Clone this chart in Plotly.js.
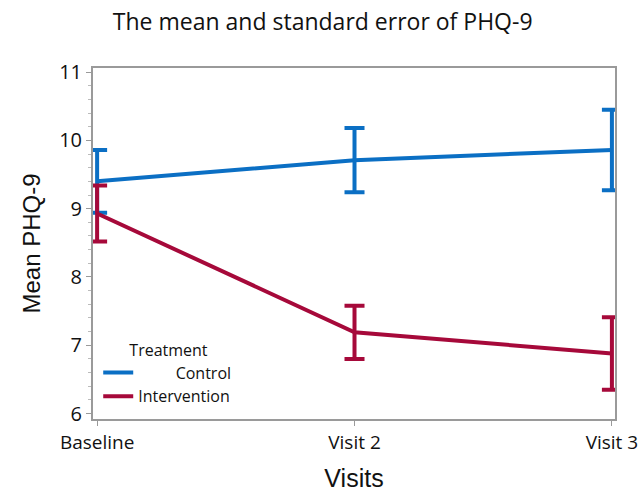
<!DOCTYPE html>
<html><head><meta charset="utf-8">
<script src="https://cdn.plot.ly/plotly-3.0.1.min.js"></script>
<style>body{margin:0;background:#fff}#c{width:639px;height:498px}</style>
</head><body><div id="c"></div>
<script>
const visits = ["Baseline", "Visit 2", "Visit 3"];
const controlMean = [9.40, 9.71, 9.86];
const controlSE = [0.46, 0.47, 0.59];
const interventionMean = [8.93, 7.19, 6.88];
const interventionSE = [0.41, 0.39, 0.53];
const seriesNames = ["&nbsp;&nbsp;&nbsp;&nbsp;&nbsp;&nbsp;&nbsp;&nbsp;&nbsp;Control", "Intervention"];
const colors = ["#0b6fc4", "#a6093a"];

const xs = visits.map((v, i) => i);
function tr(name, y, se, col) {
  return {
    x: xs, y: y, name: name, type: "scatter", mode: "lines",
    line: {color: col, width: 4},
    error_y: {type: "data", array: se, visible: true, color: col, thickness: 4, width: 10},
    cliponaxis: false
  };
}
const data = [
  tr(seriesNames[0], controlMean, controlSE, colors[0]),
  tr(seriesNames[1], interventionMean, interventionSE, colors[1])
];
const font = "Open Sans, Liberation Sans, sans-serif";
const layout = {
  width: 639, height: 498,
  margin: {l: 93, r: 24, t: 68, b: 79},
  paper_bgcolor: "#fff", plot_bgcolor: "#fff",
  title: {text: "The mean and standard error of PHQ-9", x: 0.505, xanchor: "center", y: 0.955, yanchor: "middle",
          font: {family: font, size: 23, color: "#111"}},
  xaxis: {
    range: [-0.016, 2.012], tickvals: xs, ticktext: visits,
    showgrid: false, zeroline: false, showline: true, linecolor: "#9a9a9a", linewidth: 2, mirror: true,
    ticks: "outside", ticklen: 5, tickcolor: "#9a9a9a",
    tickfont: {family: font, size: 19, color: "#111"},
    title: {text: "Visits", font: {family: "Liberation Sans, Arial, sans-serif", size: 25, color: "#111"}, standoff: 16}
  },
  yaxis: {
    range: [5.92, 11.06], tickvals: [6, 7, 8, 9, 10, 11],
    showgrid: false, zeroline: false, showline: true, linecolor: "#9a9a9a", linewidth: 2, mirror: true,
    ticks: "outside", ticklen: 5, tickcolor: "#9a9a9a",
    minor: {dtick: 0.2, ticks: "outside", ticklen: 3, tickcolor: "#bbbbbb", showgrid: false},
    tickfont: {family: font, size: 20, color: "#111"},
    title: {text: "Mean PHQ-9", font: {family: "Liberation Sans, Arial, sans-serif", size: 24, color: "#111"}, standoff: 12}
  },
  legend: {
    x: 0.01, y: 0.015, xanchor: "left", yanchor: "bottom",
    bgcolor: "rgba(0,0,0,0)",
    title: {text: "&nbsp;&nbsp;&nbsp;&nbsp;&nbsp;&nbsp;&nbsp;Treatment", font: {family: font, size: 16, color: "#111"}},
    font: {family: font, size: 16, color: "#111"},
    itemwidth: 30, tracegroupgap: 0
  },
  showlegend: true
};
Plotly.newPlot("c", data, layout, {displayModeBar: false, staticPlot: true});
</script></body></html>
